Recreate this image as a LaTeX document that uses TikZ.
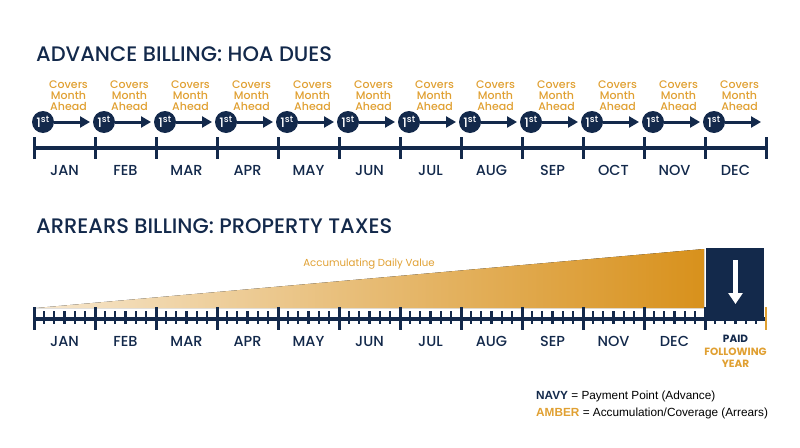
\documentclass[tikz,border=0pt]{standalone}
\usepackage{fontspec}
\setmainfont{Poppins}
\newfontfamily\titlefont{Poppins Medium}
\newfontfamily\legendfont{Liberation Sans}
\usetikzlibrary{arrows.meta}
\definecolor{navy}{HTML}{13294B}
\definecolor{amber}{HTML}{E0A032}
\definecolor{ambdark}{HTML}{D8911C}
\definecolor{amblight}{HTML}{F6E6CC}
\begin{document}
\begin{tikzpicture}[x=1pt,y=-1pt,
  title/.style={font=\titlefont\fontsize{21}{21}\selectfont, text=navy, anchor=base west, inner sep=0},
  month/.style={font=\titlefont\fontsize{14.5}{14.5}\selectfont, text=navy, anchor=base, inner sep=0},
  covers/.style={font=\titlefont\fontsize{11}{11}\selectfont, text=amber, align=center, inner sep=0},
  paydot/.style={circle, fill=navy, minimum size=22pt, inner sep=0, text=white, font=\titlefont\fontsize{13}{13}\selectfont},
  tline/.style={navy, line width=4pt},
  majtick/.style={navy, line width=3pt},
  mintick/.style={navy, line width=2.2pt},
  covarrow/.style={navy, line width=3pt, -{Triangle[length=10pt,width=11pt]}},
  smallbold/.style={font=\bfseries\fontsize{10.5}{10.5}\selectfont, anchor=base, inner sep=0},
  legend/.style={font=\legendfont\fontsize{11.8}{11.8}\selectfont, anchor=base west, inner sep=0},
]
\useasboundingbox (0,0) rectangle (800,447);
% ---------- Advance billing ----------
\node[title] (t1) at (36,61) {ADVANCE BILLING: HOA DUES};
\coordinate (L0) at (34,148);
\coordinate (L12) at (766,148);
\draw[tline] (L0) -- (L12);
\foreach \i in {0,...,12} {
  \draw[majtick] ({34+61*\i},137) -- ({34+61*\i},159);
}
\foreach \m [count=\i from 0] in {JAN,FEB,MAR,APR,MAY,JUN,JUL,AUG,SEP,OCT,NOV,DEC} {
  \node[month] (tm\i) at ({64.5+61*\i},175.7) {\m};
  \node[paydot] (c\i) at ({43+61*\i},122) {1\textsuperscript{st}};
  \coordinate (a\i) at ({90+61*\i},122);
  \draw[covarrow] (c\i) -- (a\i);
  \node[covers] (cv\i) at ({68.5+61*\i},96) {Covers\\Month\\Ahead};
}
% ---------- Arrears billing ----------
\node[title] (t2) at (36,233.3) {ARREARS BILLING: PROPERTY TAXES};
\fill[left color=amblight, right color=ambdark] (36,308) -- (704,249) -- (704,308) -- cycle;
\node[font=\fontsize{10.2}{10.2}\selectfont, text=amber, anchor=base, inner sep=0] (acc) at (369,266.7) {Accumulating Daily Value};
\coordinate (B0) at (34,319);
\coordinate (B12) at (766,319);
\draw[tline] (B0) -- (B12);
\foreach \i in {0,...,11} {
  \foreach \j in {1,...,5} {
    \draw[mintick] ({34+61*\i+61*\j/6},311) -- ({34+61*\i+61*\j/6},324);
  }
  \draw[majtick] ({34+61*\i},307) -- ({34+61*\i},330);
}
\node[fill=navy, minimum width=58, minimum height=73, anchor=north west, inner sep=0] (box) at (706,248) {};
\coordinate (ps) at (735.5,260);
\coordinate (pe) at (735.5,304);
\draw[white, line width=4.5pt, -{Triangle[length=11pt,width=14pt]}] (ps) -- (pe);
\draw[amber, line width=2.5pt] (766,307) -- (766,330);
\foreach \m [count=\i from 0] in {JAN,FEB,MAR,APR,MAY,JUN,JUL,AUG,SEP,NOV,DEC} {
  \node[month] (bm\i) at ({64.5+61*\i},346) {\m};
}
\node[smallbold, text=navy] (paid) at (735.5,342.7) {PAID};
\node[smallbold, text=amber] (fol) at (735.5,355) {FOLLOWING};
\node[smallbold, text=amber] (yr) at (735.5,367.3) {YEAR};
% ---------- Legend ----------
\node[legend] (lg1) at (536,399) {\textcolor{navy}{\bfseries NAVY} = Payment Point (Advance)};
\node[legend] (lg2) at (536,416.7) {\textcolor{amber}{\bfseries AMBER} = Accumulation/Coverage (Arrears)};
\end{tikzpicture}
\end{document}
